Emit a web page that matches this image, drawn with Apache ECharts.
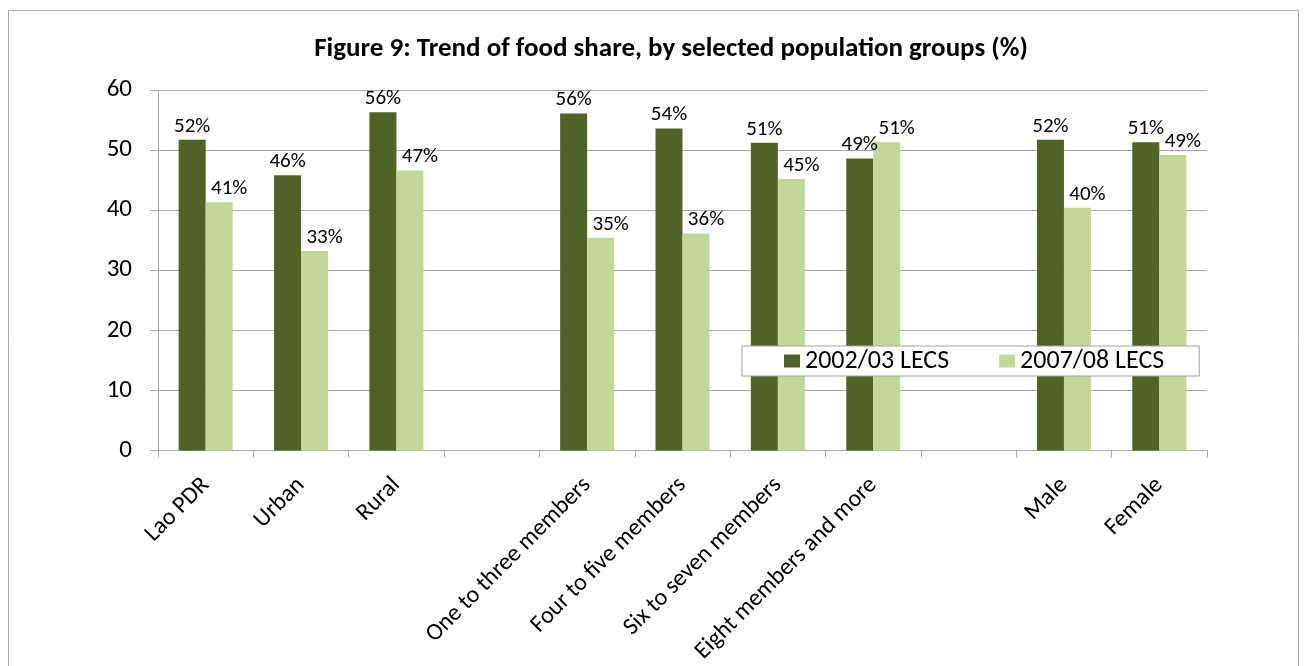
<!DOCTYPE html>
<html>
<head>
<meta charset="utf-8">
<script src="https://cdn.jsdelivr.net/npm/echarts@6/dist/echarts.min.js"></script>
<style>
html,body{margin:0;padding:0;background:#fff;}
#chart{width:1307px;height:666px;}
</style>
</head>
<body>
<div id="chart"></div>
<script>
var categories = ["Lao PDR", "Urban", "Rural", "", "One to three members", "Four to five members", "Six to seven members", "Eight members and more", " ", "Male", "Female"];
var seriesNames = ["2002/03 LECS", "2007/08 LECS"];
var lecs2002 = [51.7, 45.8, 56.3, null, 56.1, 53.6, 51.2, 48.6, null, 51.7, 51.3];
var lecs2007 = [41.3, 33.2, 46.6, null, 35.4, 36.1, 45.2, 51.3, null, 40.4, 49.2];
var yTicks = [0, 10, 20, 30, 40, 50, 60];
var titleText = "Figure 9: Trend of food share, by selected population groups (%)";

var FONT = "Carlito, Calibri, Lato, sans-serif";
var chart = echarts.init(document.getElementById('chart'), null, {renderer: 'canvas'});
function lbl(dx){
  return {show: true, position: 'top', distance: 3, offset: [dx, 0], color: '#000', fontFamily: FONT, fontSize: 21,
    formatter: function(p){ return p.value == null ? '' : Math.round(p.value) + '%'; }};
}
var option = {
  backgroundColor: '#fff',
  animation: false,
  title: {text: titleText, left: 666, textAlign: 'center', top: 31,
    textStyle: {fontFamily: FONT, fontWeight: 'bold', fontSize: 27, color: '#000'}},
  graphic: [{type: 'rect', shape: {x: 8.5, y: 10.5, width: 1290, height: 700},
    style: {fill: 'none', stroke: '#a6a6a6', lineWidth: 1}, silent: true, z: -1}],
  legend: {data: seriesNames, left: 742, top: 346, orient: 'horizontal',
    backgroundColor: '#fff', borderColor: '#a6a6a6', borderWidth: 1,
    padding: [2, 35, 2, 42], itemGap: 50, itemWidth: 16, itemHeight: 13, icon: 'rect',
    textStyle: {fontFamily: FONT, fontSize: 26, color: '#000'}},
  grid: {left: 158, right: 100, top: 90, bottom: 215, containLabel: false},
  xAxis: {type: 'category', data: categories,
    axisLine: {lineStyle: {color: '#a6a6a6'}},
    axisTick: {show: true, interval: 0, length: 7, alignWithLabel: false, lineStyle: {color: '#a6a6a6'}},
    axisLabel: {interval: 0, rotate: 45, margin: 31, align: 'right', verticalAlign: 'middle',
      color: '#000', fontFamily: FONT, fontSize: 24}},
  yAxis: {type: 'value', min: yTicks[0], max: yTicks[yTicks.length - 1], interval: yTicks[1] - yTicks[0],
    axisLine: {show: true, lineStyle: {color: '#a6a6a6'}},
    axisTick: {show: true, inside: false, length: 8, lineStyle: {color: '#a6a6a6'}},
    splitLine: {lineStyle: {color: '#a6a6a6'}},
    axisLabel: {margin: 26, color: '#000', fontFamily: FONT, fontSize: 25}},
  series: [
    {name: seriesNames[0], type: 'bar', data: lecs2002, barWidth: 27, barGap: '0%',
      itemStyle: {color: '#4f6228'}, label: lbl(0)},
    {name: seriesNames[1], type: 'bar', data: lecs2007, barWidth: 27, barGap: '0%',
      itemStyle: {color: '#c4d79b'}, label: lbl(10)}
  ]
};
chart.setOption(option);
</script>
</body>
</html>
